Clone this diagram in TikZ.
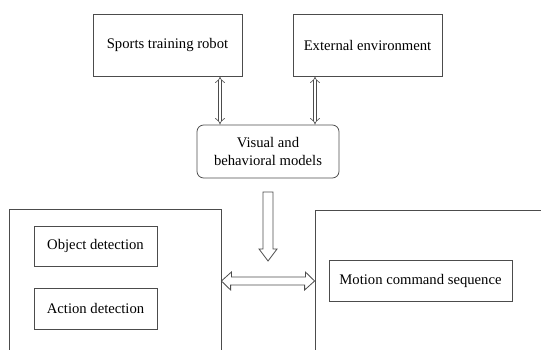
\documentclass[tikz,border=0pt]{standalone}
\usepackage{fontspec}
\setmainfont{Liberation Serif}
\usetikzlibrary{arrows.meta}

\begin{document}
\begin{tikzpicture}[x=0.75pt,y=-0.75pt,
    box/.style={draw=black!70, line width=0.6pt, inner sep=0pt, align=center,
      font=\fontsize{11}{14}\selectfont},
    thinarrow/.style={draw=black!70, double, double distance=2.2pt, line width=0.45pt,
      {Implies}-{Implies}},
    hollow/.style={draw=black!70, line width=0.6pt, line join=miter}]
    \useasboundingbox (0,0) rectangle (541,349);

    % Top boxes
    \node[box, minimum width=111.75pt, minimum height=46.5pt] (robot) at (167.5,45) {Sports training robot};
    \node[box, minimum width=111.75pt, minimum height=46.5pt] (env) at (367.5,45) {External environment};
    \node[box, rounded corners=5pt, minimum width=106.5pt, minimum height=39.75pt] (models) at (268,151.5)
        {Visual and\\behavioral models};

    % Bottom panels (open at the bottom of the page)
    \node[box, minimum width=159pt, minimum height=143.25pt] (left) at (115,304.5) {};
    \node[box, minimum width=213.75pt, minimum height=142.5pt] (right) at (457.5,305) {};

    % Inner boxes
    \node[box, minimum width=92.25pt, minimum height=30pt] (object) at (95.5,246) {Object detection};
    \node[box, minimum width=92.25pt, minimum height=30.75pt] (action) at (95.5,308.5) {Action detection};
    \node[box, minimum width=137.25pt, minimum height=30.75pt] (motion) at (420.5,280.5) {Motion command sequence};

    % Arrows
    \draw[thinarrow] (220,0 |- robot.south) -- (220,0 |- models.north);
    \draw[thinarrow] (315,0 |- env.south) -- (315,0 |- models.north);

    \coordinate (down top) at (268,192);
    \coordinate (down tip) at (268,261);
    \draw[hollow] (down top) ++(-5,0) -- ++(0,57) -- ++(-4,0) -- (down tip)
        -- ++(9,-12) -- ++(-4,0) -- ++(0,-57) -- cycle;

    \coordinate (left tip) at (left.east |- 0,281);
    \coordinate (right tip) at (right.west |- 0,281);
    \draw[hollow] (left tip) -- ++(10,-9) -- ++(0,5) -- ++(74,0) -- ++(0,-5) -- (right tip)
        -- ++(-10,9) -- ++(0,-5) -- ++(-74,0) -- ++(0,5) -- cycle;
\end{tikzpicture}
\end{document}
